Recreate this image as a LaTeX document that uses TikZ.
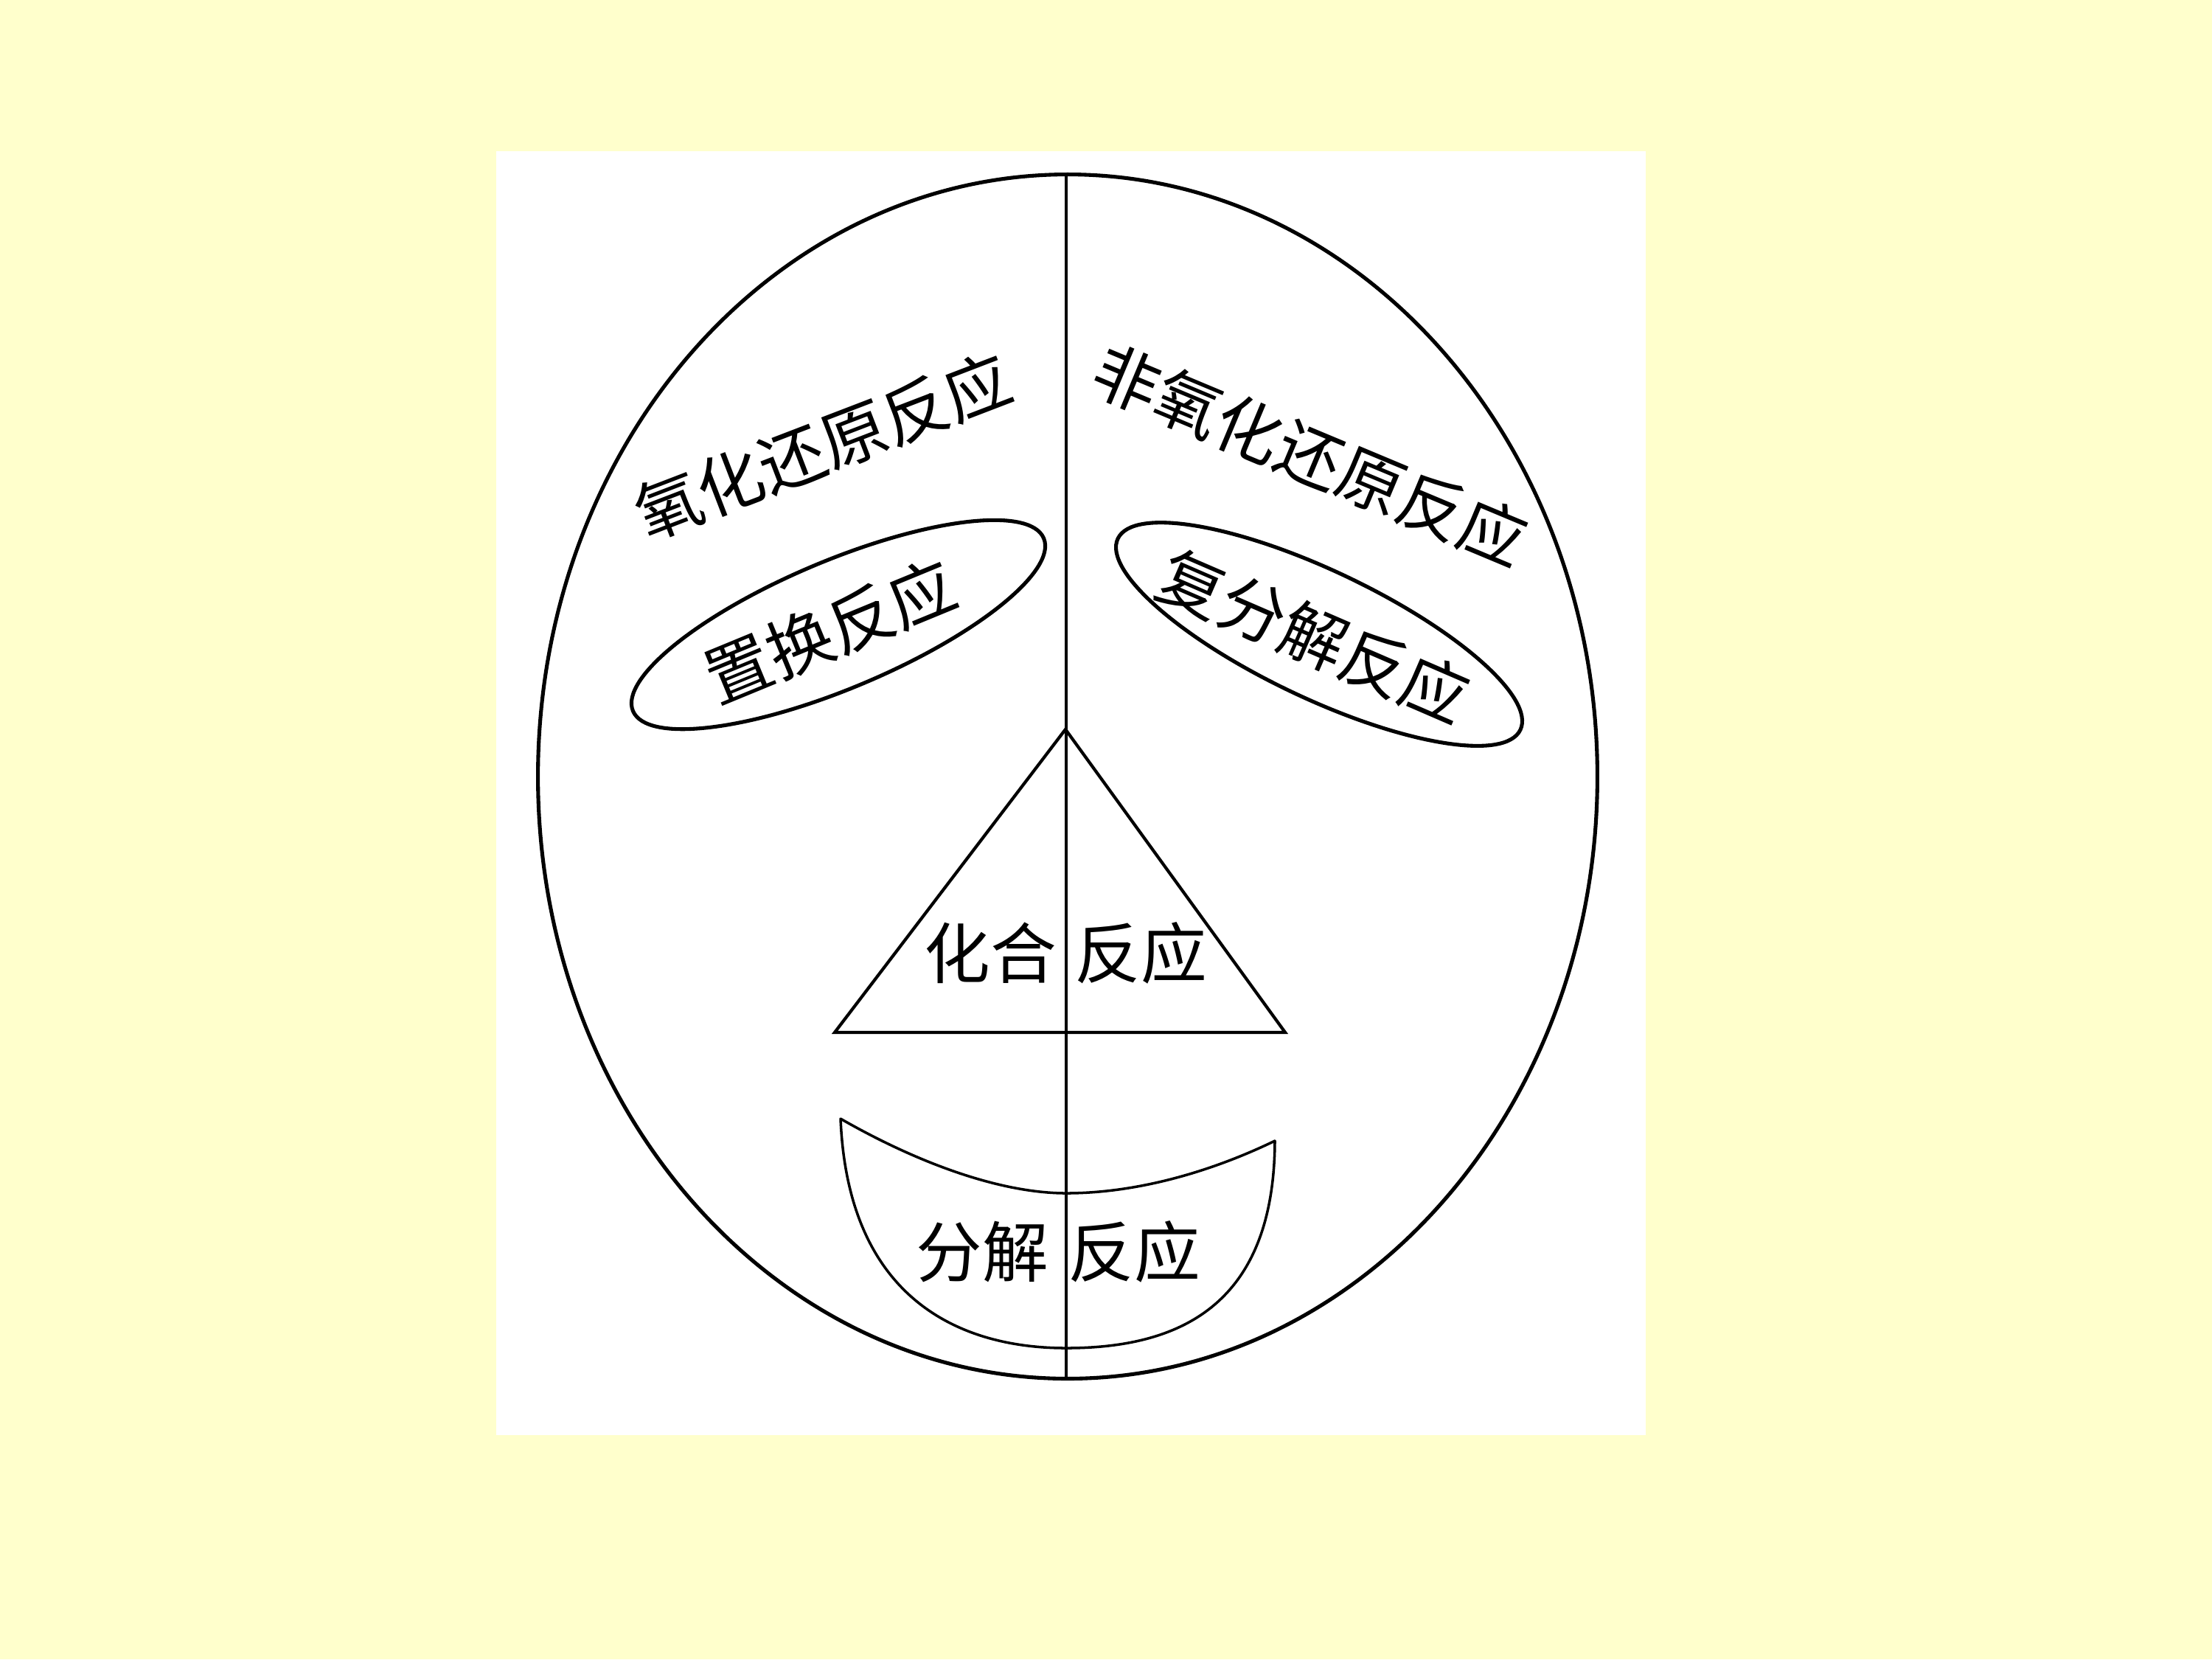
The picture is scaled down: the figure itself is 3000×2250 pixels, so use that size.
\documentclass[tikz,border=0pt]{standalone}
\usepackage{fontspec}
\newfontfamily\cjk{Noto Sans CJK SC}
\definecolor{bgyellow}{HTML}{FFFFCC}
\begin{document}
\begin{tikzpicture}[x=0.01cm,y=-0.01cm,
  thickline/.style={line width=1.45pt},
  midline/.style={line width=1.2pt},
  thinline/.style={line width=1.0pt, line join=round},
  lbl/.style={font=\cjk\fontsize{25.5}{30}\selectfont, inner sep=0pt}]
\fill[bgyellow] (0,0) rectangle (3000,2250);
\useasboundingbox (0,0) rectangle (3000,2250);
\fill[white] (673,205) rectangle (2232,1946);
% face outline
\draw[thickline] (1448,1053) ellipse [x radius=7.18cm, y radius=8.16cm];
% centre line
\coordinate (top) at (1446,237);
\coordinate (bot) at (1446,1869);
\draw[midline] (top) -- (bot);
% eyes
\draw[thickline, rotate around={22.8:(1137,847)}] (1137,847) ellipse [x radius=3.02cm, y radius=0.865cm];
\draw[thickline, rotate around={-25.4:(1789,860)}] (1789,860) ellipse [x radius=3.02cm, y radius=0.865cm];
% nose
\coordinate (apex) at (1445,989);
\coordinate (bl) at (1132,1400);
\coordinate (br) at (1743,1400);
\draw[midline, line join=miter] (apex) -- (bl) -- (br) -- cycle;
% mouth
\coordinate (ml) at (1140,1517);
\coordinate (mr) at (1729,1547);
\draw[thinline] (ml) .. controls (1250,1580) and (1360,1618) .. (1446,1618)
  .. controls (1540,1618) and (1640,1590) .. (mr)
  .. controls (1728,1770) and (1600,1828) .. (1446,1828)
  .. controls (1300,1828) and (1150,1760) .. (ml) -- cycle;
% labels
\node[lbl, rotate=21] (redox) at (1116,605) {氧化还原反应};
\node[lbl, rotate=-22.7] (nonredox) at (1777,617) {非氧化还原反应};
\node[lbl, rotate=22.4] (subst) at (1126,856) {置换反应};
\node[lbl, rotate=-23.4] (dbl) at (1782,863) {复分解反应};
\node[lbl, anchor=east] (combA) at (1434,1292) {化合};
\node[lbl, anchor=west] (combB) at (1457,1292) {反应};
\node[lbl, anchor=east] (decA) at (1423,1697) {分解};
\node[lbl, anchor=west] (decB) at (1448,1697) {反应};
\end{tikzpicture}
\end{document}
